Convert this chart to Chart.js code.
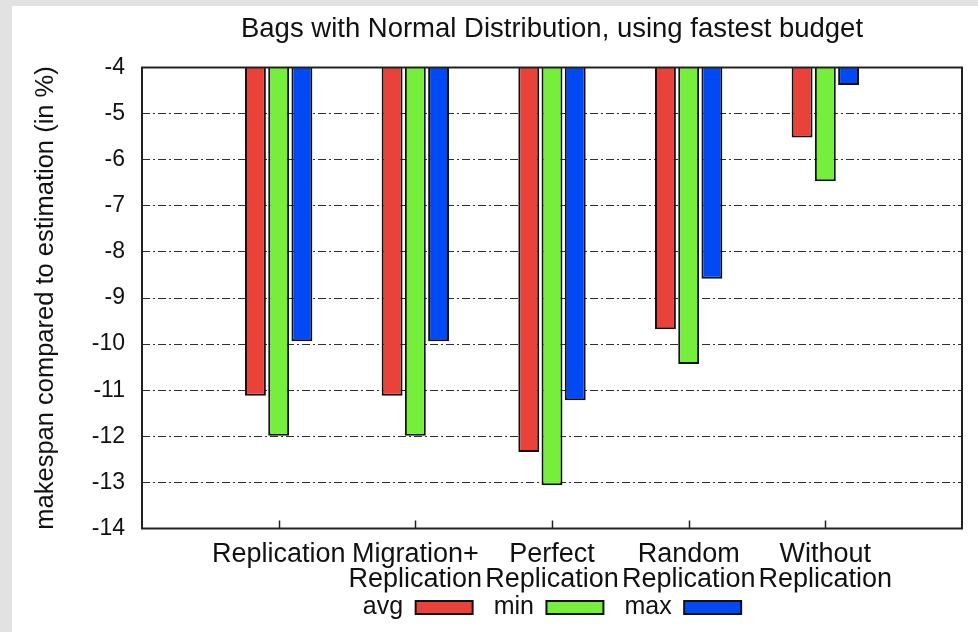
<!DOCTYPE html>
<html>
<head>
<meta charset="utf-8">
<title>Bags with Normal Distribution, using fastest budget</title>
<script src="https://cdn.jsdelivr.net/npm/chart.js@4.4.1/dist/chart.umd.min.js"></script>
<style>
  html, body {
    margin: 0;
    padding: 0;
    background: #e2e2e2;
    overflow: hidden;
  }
  #wrap {
    position: absolute;
    left: 12px;
    top: 6px;
    width: 966px;
    height: 626px;
    background: #ffffff;
  }
</style>
</head>
<body>
<div id="wrap">
  <canvas id="chart" width="966" height="626"></canvas>
</div>
<script>
// Data
const categories = [
  'Replication',
  ['Migration+', 'Replication'],
  ['Perfect', 'Replication'],
  ['Random', 'Replication'],
  ['Without', 'Replication'],
];
const avgValues = [-11.12, -11.12, -12.34, -9.68, -5.52];
const minValues = [-11.99, -11.99, -13.06, -10.43, -6.47];
const maxValues = [-9.94, -9.94, -11.22, -8.58, -4.38];

const yMin = -14;
const yMax = -4;

const FONT = 'Liberation Sans, Arial, Helvetica, sans-serif';
const TEXT = '#111111';

// gnuplot-like layout: one empty slot either side of the groups
const labels = [''].concat(categories, ['']);
const pad = values => [null].concat(values, [null]);

function makeSet(label, values, color) {
  return {
    label: label,
    data: pad(values),
    base: yMax,
    backgroundColor: color,
    borderColor: '#111111',
    borderWidth: 2,
    categoryPercentage: 0.51,
    barPercentage: 0.9,
  };
}

// Plot frame, inward category ticks, and room for the two-line x labels
const framePlugin = {
  id: 'frame',
  afterLayout(chart) {
    // let the second label line draw below the (tight) x axis box
    const x = chart.scales.x;
    x.height = 64;
    x.bottom = x.top + 64;
  },
  afterDatasetsDraw(chart) {
    const { ctx, chartArea: a, scales: { x } } = chart;
    ctx.save();
    ctx.strokeStyle = '#222222';
    ctx.lineWidth = 1.5;
    ctx.beginPath();
    categories.forEach((c, i) => {
      const px = Math.round(x.getPixelForValue(i + 1)) + 0.5;
      ctx.moveTo(px, a.bottom);
      ctx.lineTo(px, a.bottom - 8);
    });
    ctx.stroke();
    ctx.lineWidth = 2;
    ctx.strokeRect(a.left, a.top, a.right - a.left, a.bottom - a.top);
    ctx.restore();
  },
};

new Chart(document.getElementById('chart').getContext('2d'), {
  type: 'bar',
  data: {
    labels: labels,
    datasets: [
      makeSet('avg', avgValues, '#e8423a'),
      makeSet('min', minValues, '#75ef3b'),
      makeSet('max', maxValues, '#0049f5'),
    ],
  },
  options: {
    responsive: false,
    animation: false,
    layout: {
      padding: { left: 15, right: 16, top: 0, bottom: 2 },
    },
    plugins: {
      title: {
        display: true,
        text: 'Bags with Normal Distribution, using fastest budget',
        fullSize: false,
        color: TEXT,
        font: { family: FONT, size: 27.5, weight: 'normal', lineHeight: 1.2 },
        padding: { top: 7, bottom: 21.5 },
      },
      legend: {
        position: 'bottom',
        fullSize: false,
        rtl: true,
        reverse: true,
        labels: {
          color: TEXT,
          font: { family: FONT, size: 25 },
          boxWidth: 57,
          boxHeight: 13,
          padding: 21,
        },
      },
      tooltip: { enabled: false },
    },
    scales: {
      x: {
        offset: false,
        grid: { display: false, drawTicks: false },
        border: { display: false },
        ticks: {
          color: TEXT,
          autoSkip: false,
          maxRotation: 0,
          padding: 14,
          font: { family: FONT, size: 27, lineHeight: 0.926 },
        },
        afterFit: scale => { scale.height = 45.5; },
      },
      y: {
        min: yMin,
        max: yMax,
        grid: { color: '#2e2e2e', lineWidth: 1, drawTicks: false },
        border: { display: false, dash: [8, 3, 2, 3] },
        ticks: {
          stepSize: 1,
          color: TEXT,
          padding: 17,
          font: { family: FONT, size: 23 },
        },
        title: {
          display: true,
          text: 'makespan compared to estimation (in %)',
          color: TEXT,
          font: { family: FONT, size: 25.5, lineHeight: 1.2 },
          padding: { top: 4, bottom: 0 },
        },
        afterFit: scale => { scale.width = 115; },
      },
    },
  },
  plugins: [framePlugin],
});
</script>
</body>
</html>
